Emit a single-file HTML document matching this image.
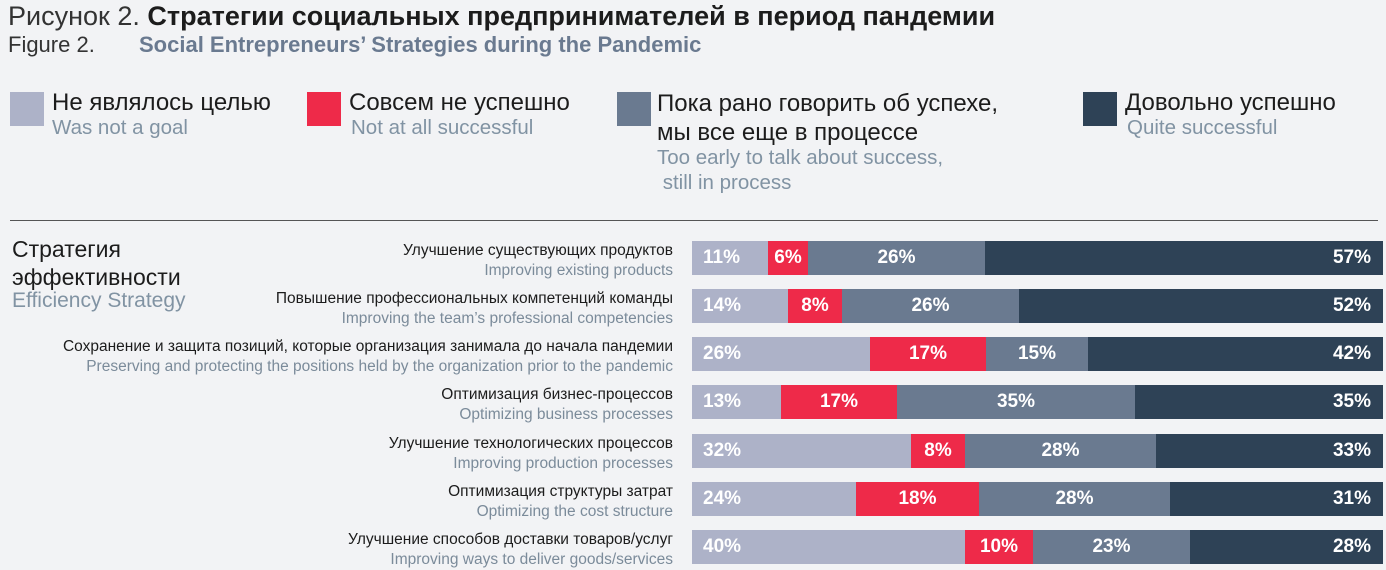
<!DOCTYPE html>
<html><head><meta charset="utf-8"><style>
body{margin:0;width:1386px;height:570px;background:#f2f3f5;position:relative;overflow:hidden;font-family:"Liberation Sans Narrow","Liberation Sans","Noto Sans CJK SC",sans-serif;}
.a{position:absolute;white-space:nowrap;}
.lab{position:absolute;right:713px;text-align:right;white-space:nowrap;}
.ru{font-size:15.5px;color:#1c1c1c;line-height:20px;}
.en{font-size:15.5px;color:#7b8b9a;line-height:19px;}
.bar{position:absolute;left:692px;width:691px;height:34px;display:flex;}
.bar div{height:34px;color:#fff;font-weight:bold;font-size:19px;line-height:34px;position:relative;flex:none}
.g{background:#adb2c8;padding-left:11px;box-sizing:border-box}
.r{background:#ee2a49;text-align:center}
.s{background:#6a7a90;text-align:center}
.d{background:#2e4256;text-align:right;padding-right:12px;box-sizing:border-box;flex:1 !important}
.sw{position:absolute;width:34px;height:34px;}
.lt{font-size:24px;color:#1c1c1c;}
.ls{font-size:20.5px;color:#8193a3;}
</style></head><body>
<div class="a" style="left:8px;top:1px;font-size:27px;color:#1c1c1c"><span style="color:#333">Рисунок 2.</span> <b>Стратегии социальных предпринимателей в период пандемии</b></div>
<div class="a" style="left:8px;top:32px;font-size:22px;color:#333">Figure 2.</div>
<div class="a" style="left:139px;top:32px;font-size:22px;color:#6a7a90;font-weight:bold">Social Entrepreneurs’ Strategies during the Pandemic</div>

<div class="sw" style="left:10px;top:92px;background:#adb2c8"></div>
<div class="a lt" style="left:52px;top:89px">Не являлось целью</div>
<div class="a ls" style="left:52px;top:116px">Was not a goal</div>
<div class="sw" style="left:307px;top:92px;background:#ee2a49"></div>
<div class="a lt" style="left:349px;top:89px">Совсем не успешно</div>
<div class="a ls" style="left:351px;top:116px">Not at all successful</div>
<div class="sw" style="left:617px;top:92px;background:#6a7a90"></div>
<div class="a lt" style="left:657px;top:89px;line-height:29px">Пока рано говорить об успехе,<br>мы все еще в процессе</div>
<div class="a ls" style="left:657px;top:145px;line-height:25px">Too early to talk about success,<br>&nbsp;still in process</div>
<div class="sw" style="left:1083px;top:92px;background:#2e4256"></div>
<div class="a lt" style="left:1125px;top:89px">Довольно успешно</div>
<div class="a ls" style="left:1127px;top:116px">Quite successful</div>

<div class="a" style="left:10px;top:220px;width:1368px;height:1px;background:#555"></div>

<div class="a" style="left:12px;top:235px;font-size:23px;color:#1c1c1c;line-height:28px">Стратегия<br>эффективности</div>
<div class="a" style="left:12px;top:289px;font-size:21px;color:#8193a3">Efficiency Strategy</div>

<div class="lab" style="top:241px"><div class="ru">Улучшение существующих продуктов</div><div class="en">Improving existing products</div></div>
<div class="bar" style="top:241px"><div class="g" style="width:76px">11%</div><div class="r" style="width:40px">6%</div><div class="s" style="width:177px">26%</div><div class="d">57%</div></div>

<div class="lab" style="top:289px"><div class="ru">Повышение профессиональных компетенций команды</div><div class="en">Improving the team’s professional competencies</div></div>
<div class="bar" style="top:289px"><div class="g" style="width:96px">14%</div><div class="r" style="width:54px">8%</div><div class="s" style="width:177px">26%</div><div class="d">52%</div></div>

<div class="lab" style="top:337px"><div class="ru">Сохранение и защита позиций, которые организация занимала до начала пандемии</div><div class="en">Preserving and protecting the positions held by the organization prior to the pandemic</div></div>
<div class="bar" style="top:337px"><div class="g" style="width:178px">26%</div><div class="r" style="width:116px">17%</div><div class="s" style="width:102px">15%</div><div class="d">42%</div></div>

<div class="lab" style="top:385px"><div class="ru">Оптимизация бизнес-процессов</div><div class="en">Optimizing business processes</div></div>
<div class="bar" style="top:385px"><div class="g" style="width:89px">13%</div><div class="r" style="width:116px">17%</div><div class="s" style="width:238px">35%</div><div class="d">35%</div></div>

<div class="lab" style="top:434px"><div class="ru">Улучшение технологических процессов</div><div class="en">Improving production processes</div></div>
<div class="bar" style="top:434px"><div class="g" style="width:219px">32%</div><div class="r" style="width:54px">8%</div><div class="s" style="width:191px">28%</div><div class="d">33%</div></div>

<div class="lab" style="top:482px"><div class="ru">Оптимизация структуры затрат</div><div class="en">Optimizing the cost structure</div></div>
<div class="bar" style="top:482px"><div class="g" style="width:164px">24%</div><div class="r" style="width:123px">18%</div><div class="s" style="width:191px">28%</div><div class="d">31%</div></div>

<div class="lab" style="top:530px"><div class="ru">Улучшение способов доставки товаров/услуг</div><div class="en">Improving ways to deliver goods/services</div></div>
<div class="bar" style="top:530px"><div class="g" style="width:273px">40%</div><div class="r" style="width:68px">10%</div><div class="s" style="width:157px">23%</div><div class="d">28%</div></div>
</body></html>
